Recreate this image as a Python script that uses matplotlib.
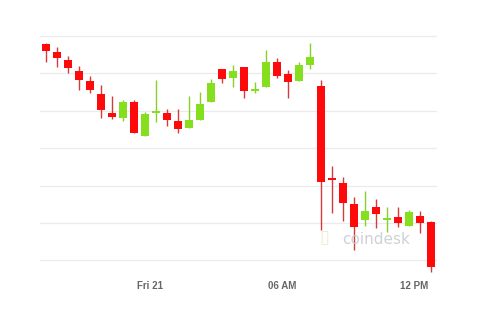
import matplotlib
matplotlib.use("Agg")
import matplotlib.pyplot as plt
import numpy as np

# 30-minute candles (approximate BTC/USD)
opens = [9694.5, 9689.1, 9684.2, 9676.6, 9670.1, 9661.4, 9648.7, 9645.0, 9655.9, 9633.3,
         9648.3, 9648.3, 9643.4, 9638.7, 9643.8, 9655.7, 9677.9, 9671.7, 9679.1, 9663.4,
         9666.1, 9682.8, 9674.6, 9669.9, 9680.6, 9666.8, 9604.7, 9601.9, 9587.5, 9577.0,
         9585.8, 9577.0, 9579.2, 9572.9, 9579.8, 9575.8]
highs = [9695.3, 9692.9, 9686.6, 9679.9, 9673.5, 9667.2, 9659.9, 9657.2, 9657.2, 9649.4,
         9670.6, 9651.2, 9651.2, 9659.9, 9662.4, 9671.1, 9677.9, 9680.6, 9679.1, 9669.4,
         9690.6, 9685.1, 9677.3, 9682.4, 9695.1, 9670.6, 9613.1, 9605.9, 9592.1, 9596.5,
         9591.0, 9585.8, 9585.4, 9583.6, 9583.2, 9576.3]
lows = [9682.4, 9679.5, 9675.5, 9663.9, 9661.7, 9645.0, 9644.3, 9643.4, 9634.9, 9633.3,
        9642.7, 9640.0, 9634.9, 9638.7, 9643.8, 9655.7, 9668.8, 9666.1, 9658.7, 9661.7,
        9666.1, 9671.7, 9658.7, 9669.9, 9677.7, 9570.3, 9581.4, 9576.5, 9556.9, 9573.1,
        9571.4, 9569.1, 9572.5, 9572.9, 9568.5, 9542.4]
closes = [9690.0, 9685.3, 9678.4, 9670.6, 9663.7, 9650.5, 9646.0, 9655.7, 9634.9, 9647.6,
          9649.8, 9643.8, 9637.8, 9643.8, 9654.5, 9668.4, 9671.1, 9676.8, 9663.2, 9664.6,
          9682.8, 9673.3, 9669.0, 9680.6, 9686.2, 9602.6, 9604.0, 9588.1, 9572.5, 9583.0,
          9581.0, 9577.8, 9574.7, 9582.5, 9575.1, 9545.7]
tick_pos = [9.5, 21.5, 33.5]
tick_labels = ["Fri 21", "06 AM", "12 PM"]
grid_levels = [9550, 9575, 9600, 9625, 9650, 9675, 9700]

RED = "#ff0a0a"
RED_WICK = "#d83a3a"
GREEN = "#86df1e"
GREEN_WICK = "#86d02a"

fig = plt.figure(figsize=(4.8, 3.14), dpi=100)
ax = fig.add_axes([40/480, (314-276)/314, 397/480, 248/314])

x = np.arange(len(opens))
o = np.array(opens); h = np.array(highs); l = np.array(lows); c = np.array(closes)
up = c >= o
body_col = np.where(up, GREEN, RED)
wick_col = np.where(up, GREEN_WICK, RED_WICK)

ax.vlines(x, l, h, colors=wick_col, linewidth=1.0, zorder=2)
bottoms = np.minimum(o, c)
heights = np.maximum(np.abs(c - o), 1.0)
ax.bar(x, heights, bottom=bottoms, width=0.66, color=body_col, edgecolor='none', zorder=3)

for g in grid_levels:
    ax.axhline(g, color="#ebebeb", linewidth=0.9, zorder=0)

ax.set_xlim(-0.545, 35.545)
ax.set_ylim(9539.5, 9705.4)
ax.set_xticks(tick_pos)
ax.set_xticklabels(tick_labels, fontsize=7, fontweight='bold', color='#666666',
                   fontfamily='Liberation Sans')
ax.tick_params(axis='x', length=0, pad=3.5)
ax.set_yticks([])
for s in ax.spines.values():
    s.set_visible(False)

# watermark
fig.text(376/480, 1 - 239/314, "coindesk", fontsize=11, color="#c9ccd1",
         ha='center', va='center', zorder=1, alpha=0.9)
fig.text(324/480, 1 - 238/314, "▯", fontsize=13, color="#efe6c4", ha='center',
         va='center', alpha=0.8)

fig.savefig("out.png", dpi=100)
